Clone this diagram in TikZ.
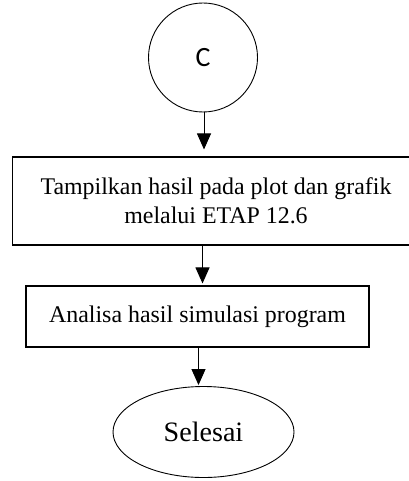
\documentclass[tikz,border=0pt]{standalone}
\usepackage{fontspec}
\setmainfont{Liberation Serif}
\newfontfamily\labelsans{Carlito}
\usetikzlibrary{arrows.meta,shapes.geometric}
\begin{document}
\begin{tikzpicture}[x=1bp,y=-1bp,
  flowline/.style={line width=1bp,-{Triangle[length=16bp,width=14bp]}},
  procbox/.style={draw,line width=1.1bp,rectangle,inner sep=0pt,align=center,
    font=\fontsize{24}{29}\selectfont},
  connector/.style={draw,circle,line width=0.9bp,inner sep=0pt,
    font=\labelsans\fontsize{28}{32}\selectfont},
  terminal/.style={draw,ellipse,line width=0.9bp,inner sep=0pt,
    font=\fontsize{28.2}{32}\selectfont}]
\useasboundingbox (0,0) rectangle (408,481);
% off-page connector
\node[connector,minimum size=109bp] (c) at (203,57.5) {C};
% process steps
\node[procbox,minimum width=407bp,minimum height=88bp] (b1) at (216,201)
  {Tampilkan hasil pada plot dan grafik\\melalui ETAP 12.6};
\node[procbox,minimum width=343bp,minimum height=61bp] (b2) at (197.5,316.5)
  {Analisa hasil simulasi program};
% end of flow
\node[terminal,minimum width=181bp,minimum height=91bp] (e) at (203.5,432) {Selesai};
% flow arrows
\draw[flowline,shorten >=7bp] ([xshift=1bp]c.south) -- ([xshift=1bp]c.south |- b1.north);
\draw[flowline,shorten >=2bp] ([xshift=5bp]b2.north |- b1.south) -- ([xshift=5bp]b2.north);
\draw[flowline,shorten >=1bp] ([xshift=1bp]b2.south) -- ([xshift=1bp]b2.south |- e.north);
\end{tikzpicture}
\end{document}
